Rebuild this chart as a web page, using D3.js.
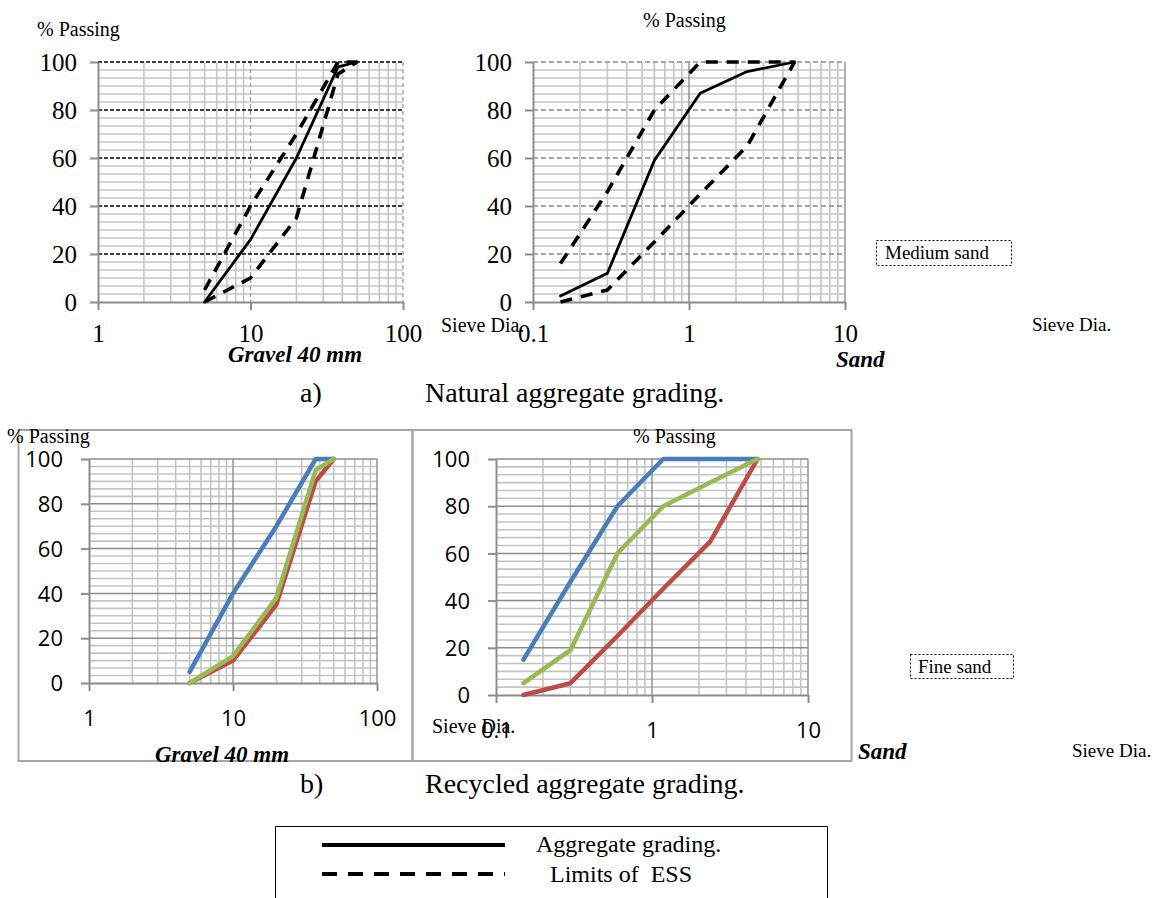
<!DOCTYPE html>
<html>
<head>
<meta charset="utf-8">
<script src="https://cdn.jsdelivr.net/npm/d3@7"></script>
<style>
  body { margin: 0; background: #fff; }
  svg { display: block; }
</style>
</head>
<body>
<svg id="surface" width="1162" height="898"></svg>
<script>
"use strict";

// Sieve sizes (mm)
var sieveGravel = [5, 10, 20, 37.5, 50];
var sieveSand = [0.15, 0.3, 0.6, 1.18, 2.36, 4.75];

// a) Natural aggregate, % passing
var gravelNatural = [0, 26, 60, 98, 100];
var gravelUpperLimit = [5, 40, 70, 100, 100];
var gravelLowerLimit = [0, 10, 35, 95, 100];
var sandNatural = [2.5, 12, 59, 87, 96, 100];
var sandUpperLimit = [16, 46, 80, 100, 100, 100];
var sandLowerLimit = [0, 5, 25, 45, 65, 100];

// b) Recycled aggregate, % passing
var gravelRecBlue = [5, 40, 70, 100, 100];
var gravelRecRed = [0, 10, 35, 90, 100];
var gravelRecGreen = [0, 12, 38, 95, 100];
var sandRecBlue = [15, 48, 80, 100, 100, 100];
var sandRecRed = [0, 5, 25, 45, 65, 100];
var sandRecGreen = [5, 19, 60, 80, 90, 100];

var yTicks = [0, 20, 40, 60, 80, 100];
var gravelTicks = [1, 10, 100];
var sandTicks = [0.1, 1, 10];

const SERIF = "'Liberation Serif', 'Times New Roman', serif";
const SANS = "'Open Sans', 'Liberation Sans', sans-serif";
const BLUE = "#4a7ebb", RED = "#be4b48", GREEN = "#98b954";

var svg = d3.select("#surface");

function zip(xs, ys) { return xs.map(function(v, i) { return [v, ys[i]]; }); }

function drawPanel(o)
{
    var x = d3.scaleLog().domain(o.domain).range([o.left, o.right]);
    var y = d3.scaleLinear().domain([0, 100]).range([o.bottom, o.top]);
    var g = svg.append("g");

    // minor grid, verticals at 2..9 of each decade
    var minorX = [];
    for (var e = Math.log10(o.domain[0]); e < Math.log10(o.domain[1]) - 0.01; e++)
        for (var k = 2; k <= 9; k++) minorX.push(k * Math.pow(10, e));
    var minorY = d3.range(1, 30).map(function(i) { return i * 20 / 6; })
        .filter(function(v) { return v < 100 && Math.abs(v / 20 - Math.round(v / 20)) > 0.01; });

    g.selectAll(".mx").data(minorX).enter().append("line")
        .attr("x1", x).attr("x2", x).attr("y1", o.top).attr("y2", o.bottom)
        .attr("stroke", "#c4c4c4").attr("stroke-width", 1.6);
    g.selectAll(".my").data(minorY).enter().append("line")
        .attr("x1", o.left).attr("x2", o.right).attr("y1", y).attr("y2", y)
        .attr("stroke", "#c4c4c4").attr("stroke-width", 1.6);

    // major verticals
    g.selectAll(".vx").data(o.xTicks.slice(1)).enter().append("line")
        .attr("x1", x).attr("x2", x).attr("y1", o.top).attr("y2", o.bottom)
        .attr("stroke", o.vColor).attr("stroke-width", 1.4)
        .attr("stroke-dasharray", o.vDash);

    // major horizontals
    g.selectAll(".hy").data(yTicks.slice(1)).enter().append("line")
        .attr("x1", o.left).attr("x2", o.right).attr("y1", y).attr("y2", y)
        .attr("stroke", o.hColor).attr("stroke-width", 1.5)
        .attr("stroke-dasharray", o.hDash);

    // axes
    var ax = g.append("g").attr("transform", "translate(0," + o.bottom + ")")
        .call(d3.axisBottom(x).tickValues(o.xTicks).tickFormat(d3.format("~g")).tickSize(8).tickSizeOuter(0));
    var ay = g.append("g").attr("transform", "translate(" + o.left + ",0)")
        .call(d3.axisLeft(y).tickValues(yTicks).tickSize(8).tickSizeOuter(0));
    [ax, ay].forEach(function(a) {
        a.attr("font-family", o.font).attr("font-size", o.fontSize);
        a.select(".domain").attr("stroke", "#8c8c8c").attr("stroke-width", 2);
        a.selectAll(".tick line").attr("stroke", "#8c8c8c").attr("stroke-width", 2);
        a.selectAll(".tick text").attr("fill", "#000");
    });
    ax.selectAll(".tick text").attr("y", o.xLabelY).attr("dy", 0);
    ay.selectAll(".tick text").attr("x", -o.yLabelGap).attr("dy", "0.35em");

    var line = d3.line().x(function(d) { return x(d[0]); }).y(function(d) { return y(d[1]); });
    o.series.forEach(function(s) {
        g.append("path").datum(zip(s.x, s.y))
            .attr("d", line).attr("fill", "none")
            .attr("stroke", s.color).attr("stroke-width", s.width)
            .attr("stroke-dasharray", s.dash || null)
            .attr("stroke-linejoin", "round")
            .attr("stroke-linecap", s.dash ? "butt" : "round");
    });
}

function addText(txt, px, py, size, opts)
{
    opts = opts || {};
    return svg.append("text").attr("x", px).attr("y", py)
        .attr("font-family", opts.family || SERIF).attr("font-size", size)
        .attr("font-weight", opts.bold ? "bold" : null)
        .attr("font-style", opts.italic ? "italic" : null)
        .attr("text-anchor", opts.anchor || "start")
        .style("white-space", "pre")
        .text(txt);
}

function addBox(px, py, w, h)
{
    svg.append("rect").attr("x", px).attr("y", py).attr("width", w).attr("height", h)
        .attr("fill", "none").attr("stroke", "#000").attr("stroke-width", 1)
        .attr("stroke-dasharray", "2,2");
}

// frames of the recycled panels
svg.append("rect").attr("x", 18.5).attr("y", 430).attr("width", 394).attr("height", 331)
    .attr("fill", "none").attr("stroke", "#a6a6a6").attr("stroke-width", 2);
svg.append("rect").attr("x", 412.5).attr("y", 430).attr("width", 439).attr("height", 331)
    .attr("fill", "none").attr("stroke", "#a6a6a6").attr("stroke-width", 2);

var topStyle = { font: SERIF, fontSize: 25, xLabelY: 40, yLabelGap: 21 };

drawPanel(Object.assign({}, topStyle, {
    domain: [1, 100], xTicks: gravelTicks, left: 98, right: 403, top: 62, bottom: 302,
    vColor: "#a0a0a0", vDash: "4,3", hColor: "#000", hDash: "4,2",
    series: [
        { x: sieveGravel, y: gravelNatural, color: "#000", width: 2.8 },
        { x: sieveGravel, y: gravelUpperLimit, color: "#000", width: 3.6, dash: "12,9" },
        { x: sieveGravel, y: gravelLowerLimit, color: "#000", width: 3.6, dash: "12,9" }
    ]
}));

drawPanel(Object.assign({}, topStyle, {
    domain: [0.1, 10], xTicks: sandTicks, left: 533, right: 845, top: 62, bottom: 302,
    vColor: "#8c8c8c", vDash: null, hColor: "#8c8c8c", hDash: "5,3",
    series: [
        { x: sieveSand, y: sandNatural, color: "#000", width: 2.8 },
        { x: sieveSand, y: sandUpperLimit, color: "#000", width: 3.6, dash: "12,9" },
        { x: sieveSand, y: sandLowerLimit, color: "#000", width: 3.6, dash: "12,9" }
    ]
}));

var botStyle = { font: SANS, fontSize: 22, hColor: "#8c8c8c", hDash: null, vColor: "#8c8c8c", vDash: null };

drawPanel(Object.assign({}, botStyle, {
    domain: [1, 100], xTicks: gravelTicks, left: 89, right: 377, top: 459, bottom: 683,
    xLabelY: 43, yLabelGap: 26,
    series: [
        { x: sieveGravel, y: gravelRecBlue, color: BLUE, width: 4.5 },
        { x: sieveGravel, y: gravelRecRed, color: RED, width: 4.5 },
        { x: sieveGravel, y: gravelRecGreen, color: GREEN, width: 4.5 }
    ]
}));

drawPanel(Object.assign({}, botStyle, {
    domain: [0.1, 10], xTicks: sandTicks, left: 496, right: 808, top: 459, bottom: 695,
    xLabelY: 43, yLabelGap: 26,
    series: [
        { x: sieveSand, y: sandRecBlue, color: BLUE, width: 4.5 },
        { x: sieveSand, y: sandRecRed, color: RED, width: 4.5 },
        { x: sieveSand, y: sandRecGreen, color: GREEN, width: 4.5 }
    ]
}));

// axis titles and notes
addText("% Passing", 37, 36, 20);
addText("% Passing", 643, 27, 20);
addText("% Passing", 7, 443, 20);
addText("% Passing", 633, 443, 20);

addText("Sieve Dia.", 441, 332, 20);
addText("Sieve Dia.", 1032, 331, 19);
addText("Sieve Dia.", 432, 733, 20);
addText("Sieve Dia.", 1072, 757, 19);

addText("Gravel 40 mm", 228, 362, 23, { bold: true, italic: true });
addText("Sand", 836, 367, 23, { bold: true, italic: true });
addText("Gravel 40 mm", 155, 762, 23, { bold: true, italic: true });
addText("Sand", 858, 759, 23, { bold: true, italic: true });

addBox(876.5, 240.5, 135, 25);
addText("Medium sand", 885, 259, 19);
addBox(910.5, 654.5, 103, 24);
addText("Fine sand", 918, 673, 19);

addText("a)", 300, 402, 28);
addText("Natural aggregate grading.", 425, 402, 28);
addText("b)", 300, 793, 28);
addText("Recycled aggregate grading.", 425, 793, 28);

// legend
svg.append("path").attr("d", "M275.5,910 V826.5 H827.5 V910")
    .attr("fill", "none").attr("stroke", "#000").attr("stroke-width", 1);
svg.append("line").attr("x1", 322).attr("x2", 505).attr("y1", 845).attr("y2", 845)
    .attr("stroke", "#000").attr("stroke-width", 4);
svg.append("line").attr("x1", 322).attr("x2", 505).attr("y1", 874).attr("y2", 874)
    .attr("stroke", "#000").attr("stroke-width", 4).attr("stroke-dasharray", "15,11");
addText("Aggregate grading.", 536, 852, 24);
addText("Limits of  ESS", 550, 882, 24);
</script>
</body>
</html>
